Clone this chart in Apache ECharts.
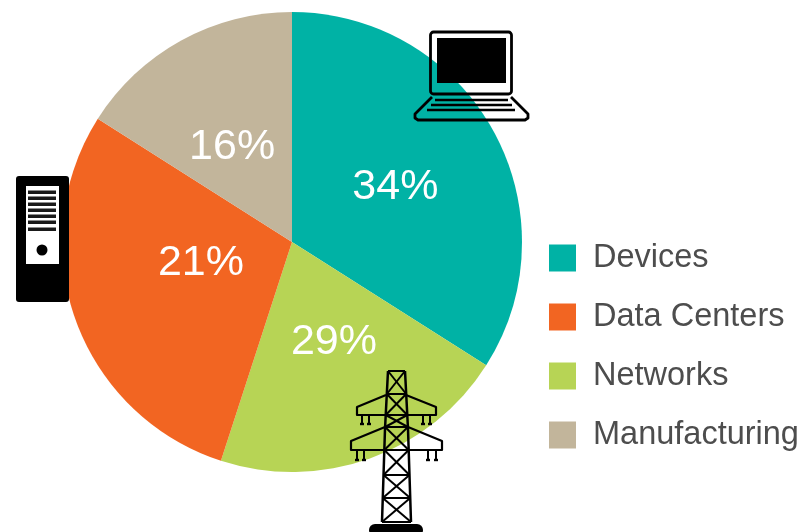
<!DOCTYPE html>
<html>
<head>
<meta charset="utf-8">
<style>html,body{margin:0;padding:0;background:#fff}#c{width:806px;height:532px}</style>
<script src="https://cdn.jsdelivr.net/npm/echarts@6/dist/echarts.min.js"></script>
</head>
<body>
<div id="c"></div>
<script>
// Slices in clockwise drawing order
const categories = ['Devices', 'Networks', 'Data Centers', 'Manufacturing'];
const sliceShares = [34, 21, 29, 16];
// Percentages as printed on the picture (printed labels of the green and orange slices differ from their drawn sizes)
const printedLabels = ['34%', '29%', '21%', '16%'];
const legendOrder = ['Devices', 'Data Centers', 'Networks', 'Manufacturing'];

const colors = ['#00b2a5', '#b7d455', '#f26522', '#c2b59b'];
const labelOffsets = [[0, 2], [2, -11], [20, -19], [-3, 9]];

const BLACK = '#000';
const line = (x1, y1, x2, y2, w) => ({ type: 'line', shape: { x1, y1, x2, y2 }, style: { stroke: BLACK, lineWidth: w || 1.5 }, z: 100 });
const poly = (points, w) => ({ type: 'polyline', shape: { points }, style: { stroke: BLACK, fill: null, lineWidth: w || 2, lineJoin: 'round' }, z: 100 });
const box = (x, y, width, height, fill, r) => ({ type: 'rect', shape: { x, y, width, height, r: r || 0 }, style: { fill }, z: 100 });

// Laptop icon
const laptop = [
  { type: 'rect', shape: { x: 430.5, y: 32, width: 81, height: 62, r: 3 }, style: { stroke: BLACK, fill: null, lineWidth: 2.8 }, z: 100 },
  box(437, 38, 69, 45, BLACK),
  poly([[432, 97], [415, 114], [415, 118], [418, 120], [525, 120], [528, 118], [528, 114], [511, 97]], 2.8),
  line(435, 100, 508, 100, 2.4), line(431, 105, 512, 105, 2.4), line(427, 110, 515, 110, 2.4)
];

// Server icon
const server = [box(16, 176, 53, 126, BLACK, 3), box(26, 186, 33, 78, '#fff')];
[192, 198, 204, 210, 216, 222, 229].forEach(y => server.push(box(28, y - 1.5, 28, 3.5, '#1a1a1a')));
server.push({ type: 'circle', shape: { cx: 42, cy: 250, r: 5.5 }, style: { fill: BLACK }, z: 100 });

// Pylon icon
const leftLeg = y => y < 429 ? 388 - (y - 371) * 3 / 58 : 385 - (y - 429) * 3 / 93;
const rightLeg = y => y < 429 ? 405 + (y - 371) * 3 / 58 : 408 + (y - 429) * 3 / 93;
const levels = [371, 394, 415, 427, 450, 475, 498, 522];
const pylon = [
  poly([[388, 371], [385, 429], [382, 522]], 2.5),
  poly([[405, 371], [408, 429], [411, 522]], 2.5),
  poly([[386, 395], [357, 407], [357, 415], [436, 415], [436, 407], [406, 395]], 2.2),
  poly([[385, 427], [351, 441], [351, 450], [442, 450], [442, 441], [408, 427]], 2.2),
  { type: 'rect', shape: { x: 369, y: 524, width: 54, height: 12, r: 6 }, style: { fill: BLACK }, z: 100 }
];
levels.forEach((y, i) => {
  pylon.push(line(leftLeg(y), y, rightLeg(y), y, 2));
  if (i < levels.length - 1) {
    const n = levels[i + 1];
    pylon.push(line(leftLeg(y), y, rightLeg(n), n, 2), line(rightLeg(y), y, leftLeg(n), n, 2));
  }
});
[[362, 415, 424], [369, 415, 424], [423, 415, 424], [430, 415, 424],
 [357, 450, 460], [364, 450, 460], [428, 450, 460], [436, 450, 460]].forEach(([x, a, b]) => {
  pylon.push(line(x, a, x, b, 2), line(x - 2, b, x + 2, b, 2.4));
});

const chart = echarts.init(document.getElementById('c'));
chart.setOption({
  animation: false,
  backgroundColor: '#fff',
  legend: {
    data: legendOrder,
    orient: 'vertical',
    left: 549,
    top: 241.5,
    padding: 0,
    itemWidth: 27,
    itemHeight: 27,
    itemGap: 26,
    icon: 'rect',
    textStyle: { fontFamily: 'Liberation Sans', fontSize: 32.5, lineHeight: 27, color: '#4d4d4d', padding: [0, 0, 0, 12] },
    selectedMode: false
  },
  series: [{
    type: 'pie',
    center: [292, 242],
    radius: [0, 230],
    startAngle: 90,
    clockwise: true,
    silent: true,
    label: { show: true, position: 'inside', fontFamily: 'Liberation Sans', fontSize: 43, color: '#fff' },
    labelLine: { show: false },
    data: categories.map((name, i) => ({
      name,
      value: sliceShares[i],
      itemStyle: { color: colors[i] },
      label: { formatter: printedLabels[i], offset: labelOffsets[i] }
    }))
  }],
  graphic: { elements: [...laptop, ...server, ...pylon] }
});
</script>
</body>
</html>
